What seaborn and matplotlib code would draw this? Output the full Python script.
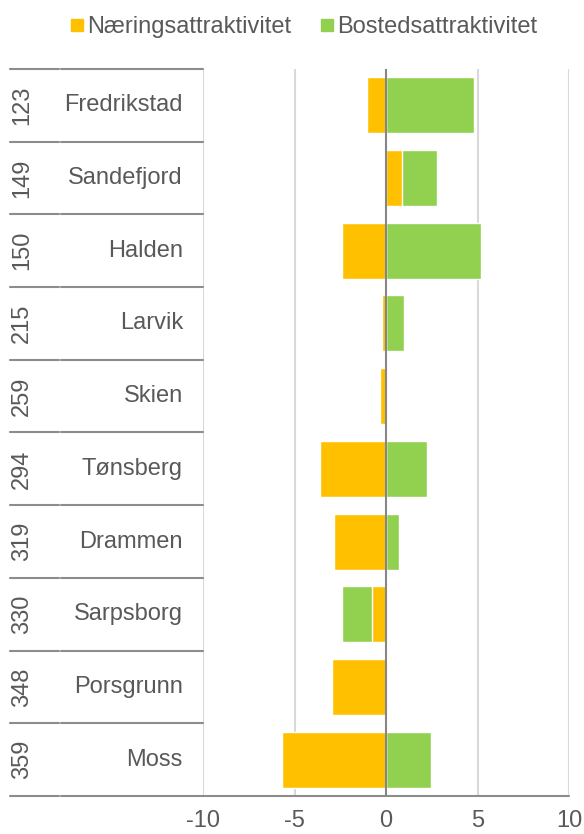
import pandas as pd
import numpy as np
import matplotlib.pyplot as plt
import seaborn as sns
from matplotlib.lines import Line2D
import matplotlib.transforms as mtransforms

# Data
ranks = ['123', '149', '150', '215', '259', '294', '319', '330', '348', '359']
cities = ['Fredrikstad', 'Sandefjord', 'Halden', 'Larvik', 'Skien',
          'Tønsberg', 'Drammen', 'Sarpsborg', 'Porsgrunn', 'Moss']
naering = [-1.05, 0.86, -2.43, -0.22, -0.33, -3.6, -2.83, -0.78, -2.96, -5.69]
bosted = [4.8, 1.91, 5.2, 1.0, 0.0, 2.24, 0.73, -1.63, 0.0, 2.46]
xticks = [-10, -5, 0, 5, 10]

orange = '#FFC000'
green = '#92D050'
txt = '#595959'

sns.set_style('white')
plt.rcParams['font.family'] = ['Liberation Sans', 'DejaVu Sans']
fs = 17

df = pd.DataFrame({'city': cities, 'naering': naering, 'bosted': bosted})
# stacked end of the second series (stacks on same sign side)
df['bosted_end'] = np.where(np.sign(df['naering']) == np.sign(df['bosted']),
                            df['naering'] + df['bosted'], df['bosted'])

fig = plt.figure(figsize=(5.84, 8.34), dpi=100)
ax = fig.add_axes([203 / 584, 1 - 796 / 834, 366 / 584, 727 / 834])

sns.barplot(data=df, y='city', x='bosted_end', color=green, orient='h',
            width=0.77, saturation=1, ax=ax, zorder=2)
sns.barplot(data=df, y='city', x='naering', color=orange, orient='h',
            width=0.77, saturation=1, ax=ax, zorder=3)

ax.set_xlim(-10, 10)
ax.set_ylim(9.5, -0.5)
ax.set_xticks(xticks)
ax.set_xticklabels([str(t) for t in xticks], fontsize=fs, color=txt)
ax.tick_params(axis='x', length=0, pad=10)
ax.set_yticks([])
ax.set_xlabel('')
ax.set_ylabel('')
for s in ax.spines.values():
    s.set_visible(False)

for t in [-10, -5, 5, 10]:
    ax.axvline(t, color='#d9d9d9', lw=1.5, zorder=1)
ax.axvline(0, color='#868686', lw=1.5, zorder=4)

# category label area with separators
trans = mtransforms.blended_transform_factory(ax.transAxes, ax.transData)
x0 = (10 - 203) / 366
xm1 = (59 - 203) / 366
xm2 = (61 - 203) / 366
for b in np.arange(-0.5, 10, 1.0):
    ax.plot([x0, xm1], [b, b], color='#8c8c8c', lw=1.5, transform=trans, clip_on=False)
    right = 1.0 if b == 9.5 else 0.0
    ax.plot([xm2, right], [b, b], color='#8c8c8c', lw=1.5, transform=trans, clip_on=False)

xr = (22 - 203) / 366
xn = (183 - 203) / 366
for i, (r, c) in enumerate(zip(ranks, cities)):
    ax.text(xr, i, r, rotation=90, ha='center', va='center', fontsize=fs,
            color=txt, transform=trans)
    ax.text(xn, i, c, ha='right', va='center', fontsize=fs, color=txt,
            transform=trans)

handles = [Line2D([], [], marker='s', color='none', markerfacecolor=orange,
                  markeredgecolor=orange, markersize=8),
           Line2D([], [], marker='s', color='none', markerfacecolor=green,
                  markeredgecolor=green, markersize=8)]
fig.legend(handles, ['Næringsattraktivitet', 'Bostedsattraktivitet'],
           loc='center', bbox_to_anchor=(0.52, 1 - 27 / 834), ncol=2,
           frameon=False, fontsize=fs, labelcolor=txt, handlelength=0.6,
           handletextpad=0.15, columnspacing=1.2)

plt.savefig('out.png', dpi=100)
